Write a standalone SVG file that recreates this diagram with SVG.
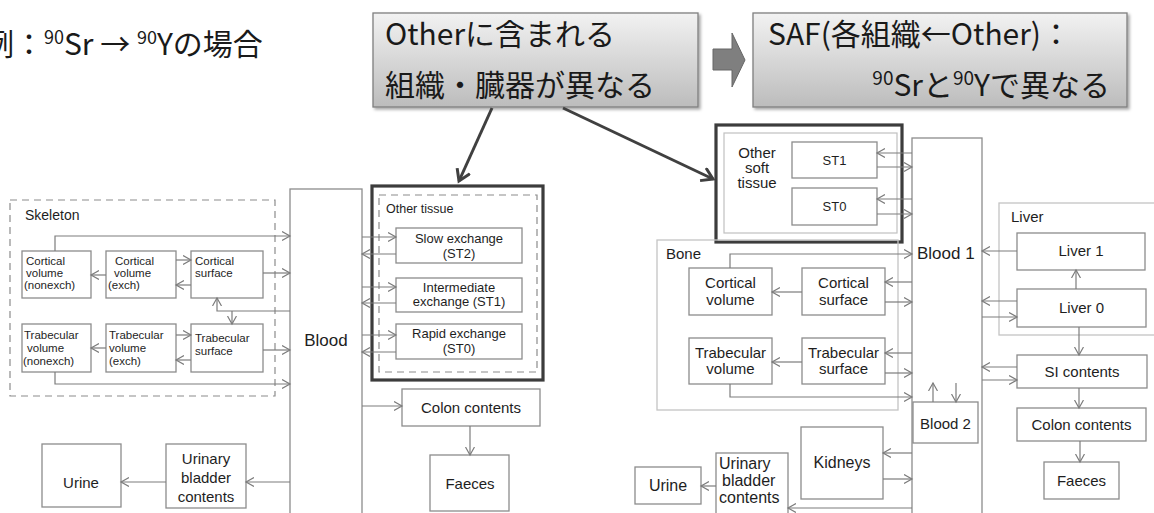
<svg xmlns="http://www.w3.org/2000/svg" width="1154" height="513" viewBox="0 0 1154 513">
<style>
.b{fill:#fff;stroke:#8c8c8c;stroke-width:1.3}
.lb{fill:none;stroke:#c4c4c4;stroke-width:1.3}
.c{fill:none;stroke:#7c7c7c;stroke-width:1.2;marker-end:url(#ah)}
.t{font-family:"Liberation Sans",Arial,sans-serif;fill:#1e1e1e}
.tm{text-anchor:middle}
.jp{font-family:"Noto Sans CJK JP","Noto Sans",sans-serif;fill:#1a1a1a}
.co{fill:url(#g);stroke:#7f7f7f;stroke-width:1.3;filter:url(#sh)}
.ca{fill:none;stroke:#404040;stroke-width:3;marker-end:url(#ah2)}
</style>
<defs>
<linearGradient id="g" x1="0" y1="0" x2="0" y2="1">
<stop offset="0" stop-color="#f2f2f2"/>
<stop offset="1" stop-color="#bcbcbc"/>
</linearGradient>
<filter id="sh" x="-5%" y="-5%" width="115%" height="120%">
<feDropShadow dx="2" dy="2" stdDeviation="1.5" flood-color="#000" flood-opacity="0.35"/>
</filter>
<marker id="ah" markerUnits="userSpaceOnUse" markerWidth="12" markerHeight="12" refX="8" refY="5" orient="auto">
<path d="M0,0.5 L8,5 L0,9.5" fill="none" stroke="#7c7c7c" stroke-width="1.2"/>
</marker>
<marker id="ah2" markerUnits="userSpaceOnUse" markerWidth="20" markerHeight="20" refX="12" refY="8" orient="auto">
<path d="M1,1 L12,8 L1,15" fill="none" stroke="#404040" stroke-width="3"/>
</marker>
</defs>

<g id="title">
<text class="jp" x="-16" y="55" font-size="30">例：<tspan font-size="18" dy="-11">90</tspan><tspan dy="11">Sr → </tspan><tspan font-size="18" dy="-11">90</tspan><tspan dy="11">Yの場合</tspan></text>
</g>

<g id="callout1">
<rect class="co" x="373" y="13" width="325" height="94"/>
<text class="jp" x="385" y="45" font-size="30">Otherに含まれる</text>
<text class="jp" x="385" y="96" font-size="30">組織・臓器が異なる</text>
</g>
<g id="blockarrow">
<polygon points="713,49 732,49 732,33 745,60 732,87 732,70 713,70" fill="#7f7f7f" stroke="#666" stroke-width="1"/>
</g>
<g id="callout2">
<rect class="co" x="753" y="13" width="374" height="94"/>
<text class="jp" x="768" y="45" font-size="30">SAF(各組織←Other)：</text>
<text class="jp" x="1110" y="96" font-size="30" text-anchor="end"><tspan font-size="19" dy="-11">90</tspan><tspan dy="11">Srと</tspan><tspan font-size="19" dy="-11">90</tspan><tspan dy="11">Yで異なる</tspan></text>
</g>

<!-- LEFT DIAGRAM -->
<g id="skeleton">
<rect x="10" y="200" width="265" height="196" fill="none" stroke="#8c8c8c" stroke-width="1.2" stroke-dasharray="7,5"/>
<text class="t" x="25" y="220" font-size="14">Skeleton</text>
</g>
<g id="cort-nonexch"><rect class="b" x="22" y="251" width="69" height="47"/>
<text class="t" font-size="11.5"><tspan x="26" y="265">Cortical</tspan><tspan x="26" y="277">volume</tspan><tspan x="24" y="289">(nonexch)</tspan></text></g>
<g id="cort-exch"><rect class="b" x="106" y="251" width="70" height="47"/>
<text class="t" font-size="11.5"><tspan x="115" y="265">Cortical</tspan><tspan x="114" y="277">volume</tspan><tspan x="108" y="289">(exch)</tspan></text></g>
<g id="cort-surf"><rect class="b" x="191" y="251" width="72" height="47"/>
<text class="t" font-size="11.5"><tspan x="195" y="265">Cortical</tspan><tspan x="195" y="277">surface</tspan></text></g>
<g id="trab-nonexch"><rect class="b" x="22" y="324" width="69" height="48"/>
<text class="t" font-size="11.5"><tspan x="24" y="339">Trabecular</tspan><tspan x="27" y="352">volume</tspan><tspan x="23" y="365">(nonexch)</tspan></text></g>
<g id="trab-exch"><rect class="b" x="106" y="324" width="70" height="48"/>
<text class="t" font-size="11.5"><tspan x="109" y="339">Trabecular</tspan><tspan x="109" y="352">volume</tspan><tspan x="109" y="365">(exch)</tspan></text></g>
<g id="trab-surf"><rect class="b" x="191" y="324" width="72" height="48"/>
<text class="t" font-size="11.5"><tspan x="195" y="342">Trabecular</tspan><tspan x="195" y="355">surface</tspan></text></g>

<g id="blood"><rect class="b" x="290" y="189" width="72" height="340"/>
<text class="t tm" x="326" y="346" font-size="17">Blood</text></g>

<g id="other-tissue">
<rect x="372" y="186" width="171" height="194" fill="none" stroke="#3c3c3c" stroke-width="3.2"/>
<rect x="379" y="195" width="158" height="177" fill="none" stroke="#8c8c8c" stroke-width="1.2" stroke-dasharray="7,5"/>
<text class="t" x="386" y="213" font-size="12.5">Other tissue</text>
</g>
<g id="st2"><rect class="b" x="396" y="228" width="126" height="35"/>
<text class="t tm" font-size="13"><tspan x="459" y="243">Slow  exchange</tspan><tspan x="459" y="258">(ST2)</tspan></text></g>
<g id="st1"><rect class="b" x="396" y="278" width="126" height="34"/>
<text class="t tm" font-size="13"><tspan x="459" y="292">Intermediate</tspan><tspan x="459" y="306">exchange (ST1)</tspan></text></g>
<g id="st0"><rect class="b" x="396" y="324" width="126" height="35"/>
<text class="t tm" font-size="13"><tspan x="459" y="338">Rapid exchange</tspan><tspan x="459" y="353">(ST0)</tspan></text></g>

<g id="colon-l"><rect class="b" x="402" y="389" width="138" height="37"/>
<text class="t tm" x="471" y="413" font-size="15">Colon contents</text></g>
<g id="faeces-l"><rect class="b" x="430" y="455" width="79" height="56"/>
<text class="t tm" x="470" y="489" font-size="15">Faeces</text></g>
<g id="bladder-l"><rect class="b" x="166" y="444" width="80" height="64"/>
<text class="t tm" font-size="15"><tspan x="206" y="464">Urinary</tspan><tspan x="206" y="483">bladder</tspan><tspan x="206" y="502">contents</tspan></text></g>
<g id="urine-l"><rect class="b" x="42" y="444" width="79" height="63"/>
<text class="t tm" x="81" y="488" font-size="15">Urine</text></g>

<!-- RIGHT DIAGRAM -->
<g id="other-soft">
<rect x="716" y="125" width="186" height="117" fill="none" stroke="#3c3c3c" stroke-width="3.2"/>
<rect x="724" y="133" width="173" height="100" fill="none" stroke="#c0c0c0" stroke-width="1.2"/>
<text class="t tm" font-size="15"><tspan x="757" y="158">Other</tspan><tspan x="757" y="173">soft</tspan><tspan x="757" y="188">tissue</tspan></text>
</g>
<g id="st1r"><rect class="b" x="792" y="142" width="85" height="36"/>
<text class="t tm" x="834.5" y="165" font-size="13">ST1</text></g>
<g id="st0r"><rect class="b" x="792" y="188" width="85" height="37"/>
<text class="t tm" x="834.5" y="211" font-size="13">ST0</text></g>

<g id="bone">
<rect class="lb" x="657" y="240" width="241" height="170"/>
<text class="t" x="666" y="259" font-size="15">Bone</text>
</g>
<g id="cort-vol"><rect class="b" x="689" y="268" width="83" height="47"/>
<text class="t tm" font-size="15"><tspan x="730.5" y="288">Cortical</tspan><tspan x="730.5" y="305">volume</tspan></text></g>
<g id="cort-sur"><rect class="b" x="802" y="268" width="83" height="47"/>
<text class="t tm" font-size="15"><tspan x="843.5" y="288">Cortical</tspan><tspan x="843.5" y="305">surface</tspan></text></g>
<g id="trab-vol"><rect class="b" x="689" y="338" width="83" height="46"/>
<text class="t tm" font-size="15"><tspan x="730.5" y="358">Trabecular</tspan><tspan x="730.5" y="374">volume</tspan></text></g>
<g id="trab-sur"><rect class="b" x="802" y="338" width="83" height="46"/>
<text class="t tm" font-size="15"><tspan x="843.5" y="358">Trabecular</tspan><tspan x="843.5" y="374">surface</tspan></text></g>

<g id="blood1"><rect class="b" x="912" y="138" width="70" height="400"/>
<text class="t" x="917" y="259" font-size="17">Blood 1</text></g>
<g id="blood2"><rect class="b" x="913" y="402" width="65" height="41"/>
<text class="t tm" x="945.5" y="429" font-size="15">Blood 2</text></g>

<g id="liver">
<rect class="lb" x="999" y="203" width="160" height="132"/>
<text class="t" x="1011" y="222" font-size="15">Liver</text>
</g>
<g id="liver1"><rect class="b" x="1017" y="233" width="128" height="37"/>
<text class="t tm" x="1081" y="256" font-size="15">Liver 1</text></g>
<g id="liver0"><rect class="b" x="1017" y="289" width="129" height="38"/>
<text class="t tm" x="1081.5" y="313" font-size="15">Liver 0</text></g>
<g id="si"><rect class="b" x="1017" y="355" width="130" height="33"/>
<text class="t tm" x="1082" y="377" font-size="15">SI contents</text></g>
<g id="colon-r"><rect class="b" x="1017" y="408" width="129" height="33"/>
<text class="t tm" x="1081.5" y="430" font-size="15">Colon  contents</text></g>
<g id="faeces-r"><rect class="b" x="1044" y="462" width="75" height="37"/>
<text class="t tm" x="1081.5" y="486" font-size="15">Faeces</text></g>

<g id="kidneys"><rect class="b" x="801" y="427" width="82" height="72"/>
<text class="t tm" x="842" y="468" font-size="16">Kidneys</text></g>
<g id="bladder-r"><rect class="b" x="716" y="453" width="72" height="70"/>
<text class="t" font-size="16"><tspan x="719" y="469">Urinary</tspan><tspan x="722" y="486">bladder</tspan><tspan x="719" y="503">contents</tspan></text></g>
<g id="urine-r"><rect class="b" x="635" y="467" width="66" height="37"/>
<text class="t tm" x="668" y="491" font-size="16">Urine</text></g>

<g id="connectors">
<!-- callout pointers -->
<path class="ca" d="M492,108 L459,181"/>
<path class="ca" d="M563,108 L713,179"/>
<!-- left: skeleton -->
<path class="c" d="M55,251 V236 H290"/>
<path class="c" d="M263,273 H290"/>
<path class="c" d="M263,350 H290"/>
<path class="c" d="M55,372 V384 H290"/>
<path class="c" d="M290,311 H217 V298"/>
<path class="c" d="M232,311 V324"/>
<path class="c" d="M176,260 H191"/>
<path class="c" d="M191,285 H176"/>
<path class="c" d="M106,275 H91"/>
<path class="c" d="M176,335 H191"/>
<path class="c" d="M191,360 H176"/>
<path class="c" d="M106,348 H91"/>
<!-- left: other tissue -->
<path class="c" d="M362,237 H396"/>
<path class="c" d="M396,254 H362"/>
<path class="c" d="M362,287 H396"/>
<path class="c" d="M396,303 H362"/>
<path class="c" d="M362,335 H396"/>
<path class="c" d="M396,352 H362"/>
<path class="c" d="M362,406 H402"/>
<path class="c" d="M470,426 V455"/>
<path class="c" d="M290,482 H246"/>
<path class="c" d="M166,482 H121"/>
<!-- right -->
<path class="c" d="M912,153 H877"/>
<path class="c" d="M877,167 H912"/>
<path class="c" d="M912,199 H877"/>
<path class="c" d="M877,214 H912"/>
<path class="c" d="M730,268 V254 H912"/>
<path class="c" d="M912,282 H885"/>
<path class="c" d="M885,302 H912"/>
<path class="c" d="M802,292 H772"/>
<path class="c" d="M912,353 H885"/>
<path class="c" d="M885,373 H912"/>
<path class="c" d="M802,362 H772"/>
<path class="c" d="M730,384 V397 H912"/>
<path class="c" d="M933,402 V383"/>
<path class="c" d="M956,383 V402"/>
<path class="c" d="M1017,251 H982"/>
<path class="c" d="M1076,289 V270"/>
<path class="c" d="M1017,301 H982"/>
<path class="c" d="M982,317 H1017"/>
<path class="c" d="M1079,327 V355"/>
<path class="c" d="M1017,367 H982"/>
<path class="c" d="M982,380 H1017"/>
<path class="c" d="M1079,388 V408"/>
<path class="c" d="M1080,441 V462"/>
<path class="c" d="M912,453 H883"/>
<path class="c" d="M883,479 H912"/>
<path class="c" d="M912,508 H788"/>
<path class="c" d="M716,486 H701"/>
</g>
</svg>
